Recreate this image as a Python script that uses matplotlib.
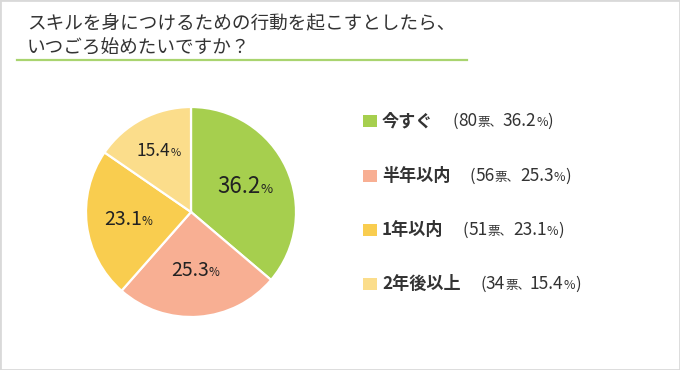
import matplotlib
matplotlib.use("Agg")
import matplotlib.pyplot as plt
from matplotlib.offsetbox import TextArea, HPacker, AnnotationBbox
from matplotlib.patches import Rectangle
from matplotlib.lines import Line2D
import numpy as np

plt.rcParams['font.family'] = ['Noto Sans CJK JP', 'DejaVu Sans']

# ---- data ----
title_lines = ["スキルを身につけるための行動を起こすとしたら、", "いつごろ始めたいですか？"]
categories = ["今すぐ", "半年以内", "1年以内", "2年後以上"]
votes = [80, 56, 51, 34]
percents = [36.2, 25.3, 23.1, 15.4]
colors = ["#A6CF4E", "#F8AF93", "#F9CD4F", "#FBDD8B"]

# ---- style ----
W, H = 680, 370
TXT = "#333333"
label_sizes = [16, 14, 14, 12.5]
pct_sizes = [9.5, 8.5, 8.5, 8]
label_dist = [0.57, 0.56, 0.60, 0.66]

fig = plt.figure(figsize=(W / 100, H / 100), dpi=100)
fig.patch.set_facecolor("white")


def fx(x):
    return x / W


def fy(y):
    return 1 - y / H


# title
fig.text(fx(27), fy(24.5), title_lines[0], size=13.4, color=TXT, va="center", ha="left")
fig.text(fx(27), fy(48.5), title_lines[1], size=13.4, color=TXT, va="center", ha="left")
fig.add_artist(Line2D([fx(17), fx(467)], [fy(60), fy(60)], transform=fig.transFigure,
                      color="#A9D46F", lw=1.6))

# pie
cx, cy, r = 191, 212, 105
lim = 1.02
half = r * lim
ax = fig.add_axes([fx(cx - half), fy(cy + half), 2 * half / W, 2 * half / H])
wedges, _ = ax.pie(percents, colors=colors, startangle=90, counterclock=False, radius=1,
                   wedgeprops=dict(edgecolor="white", linewidth=1.6))
ax.set_xlim(-lim, lim)
ax.set_ylim(-lim, lim)
ax.set_aspect("equal")
ax.axis("off")

for w, p, s, ps, d in zip(wedges, percents, label_sizes, pct_sizes, label_dist):
    th = np.deg2rad((w.theta1 + w.theta2) / 2)
    pack = HPacker(children=[TextArea(f"{p:.1f}", textprops=dict(size=s, color="#222222")),
                             TextArea("%", textprops=dict(size=ps, color="#222222"))],
                   align="baseline", pad=0, sep=0)
    ax.add_artist(AnnotationBbox(pack, (d * np.cos(th), d * np.sin(th)), xycoords="data",
                                 frameon=False, box_alignment=(0.5, 0.5), pad=0))

# legend
rows = [121, 176, 230, 284]
for cat, v, p, c, y in zip(categories, votes, percents, colors, rows):
    fig.add_artist(Rectangle((fx(363), fy(y + 6)), 14 / W, 12 / H, transform=fig.transFigure,
                             facecolor=c, edgecolor="none"))
    paren = HPacker(children=[TextArea("(", textprops=dict(size=12, color=TXT)),
                              TextArea(f"{v}", textprops=dict(size=12.5, color=TXT)),
                              TextArea("票、", textprops=dict(size=9, color=TXT)),
                              TextArea(f"{p:.1f}", textprops=dict(size=12.5, color=TXT)),
                              TextArea("%", textprops=dict(size=9, color=TXT)),
                              TextArea(")", textprops=dict(size=12, color=TXT))],
                    align="baseline", pad=0, sep=0)
    row = HPacker(children=[TextArea(cat, textprops=dict(size=12.3, color=TXT, weight="bold")), paren],
                  align="baseline", pad=0, sep=14)
    fig.add_artist(AnnotationBbox(row, (fx(382), fy(y)), xycoords=fig.transFigure,
                                  frameon=False, box_alignment=(0, 0.5), pad=0))

# frame
fig.add_artist(Rectangle((0, 0), 1, 1, transform=fig.transFigure, fill=False,
                         edgecolor="#d9d9d9", lw=2))

fig.savefig("out.png", dpi=100)
